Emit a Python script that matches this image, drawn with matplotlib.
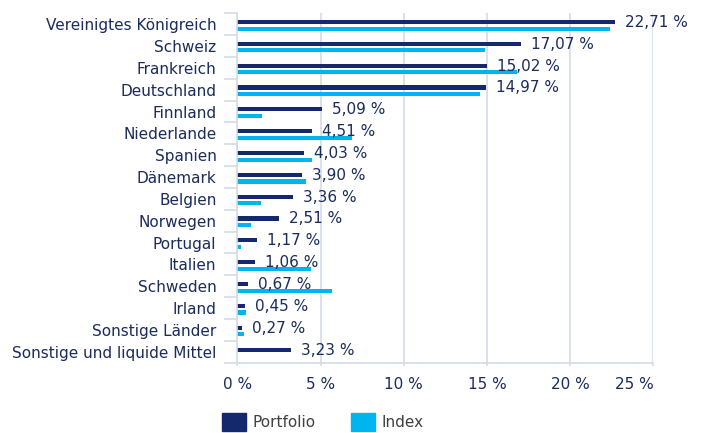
import numpy as np
import matplotlib
matplotlib.use("Agg")
import matplotlib.pyplot as plt
from matplotlib.patches import Patch

categories = ["Vereinigtes Königreich", "Schweiz", "Frankreich", "Deutschland",
              "Finnland", "Niederlande", "Spanien", "Dänemark", "Belgien",
              "Norwegen", "Portugal", "Italien", "Schweden", "Irland",
              "Sonstige Länder", "Sonstige und liquide Mittel"]
portfolio = [22.71, 17.07, 15.02, 14.97, 5.09, 4.51, 4.03, 3.90, 3.36,
             2.51, 1.17, 1.06, 0.67, 0.45, 0.27, 3.23]
index = [22.4, 14.9, 16.8, 14.6, 1.5, 6.9, 4.5, 4.15, 1.45,
         0.8, 0.2, 4.4, 5.7, 0.5, 0.4, 0.0]
xticks = [0, 5, 10, 15, 20, 25]

navy = "#13296b"
cyan = "#00b5ef"
text_col = "#1a2b5c"
grid_col = "#d3dce8"

plt.rcParams["font.family"] = "DejaVu Sans"

fig = plt.figure(figsize=(7.03, 4.33), dpi=100)
ax = fig.add_axes([0.3376, 0.1624, 0.9293 - 0.3376, 0.9693 - 0.1624])

y = np.arange(len(categories))
h = 0.19
ax.barh(y - 0.1, portfolio, height=h, color=navy, zorder=2)
ax.barh(y + 0.2, index, height=h, color=cyan, zorder=2)

for yi, v in zip(y, portfolio):
    ax.annotate(f"{v:.2f}".replace(".", ",") + " %", (v, yi - 0.08),
                xytext=(7, 0), textcoords="offset points",
                ha="left", va="center", fontsize=11, color=text_col, zorder=3)

ax.set_xlim(0, 25)
ax.set_ylim(len(categories) - 0.5, -0.5)
ax.set_xticks(xticks)
ax.set_xticklabels([f"{t} %" for t in xticks])
ax.get_xticklabels()[-1].set_ha("right")
ax.set_yticks(y)
ax.set_yticklabels(categories)
ax.set_yticks(np.arange(len(categories) + 1) - 0.5, minor=True)

ax.grid(axis="x", color=grid_col, linewidth=1.2, zorder=0)
ax.tick_params(axis="x", length=2.5, color=grid_col, width=1.2, pad=8,
               labelsize=11, labelcolor=text_col)
ax.tick_params(axis="y", which="major", length=0, pad=15,
               labelsize=11, labelcolor=text_col)
ax.tick_params(axis="y", which="minor", length=9.5, color=grid_col, width=1.2)

for side in ["top", "right"]:
    ax.spines[side].set_visible(False)
for side in ["left", "bottom"]:
    ax.spines[side].set_color(grid_col)
    ax.spines[side].set_linewidth(1.2)

handles = [Patch(color=navy, label="Portfolio"), Patch(color=cyan, label="Index")]
fig.legend(handles=handles, loc="center left", bbox_to_anchor=(0.3158, 0.0254),
           ncol=2, frameon=False, fontsize=11, labelcolor="#404040",
           handlelength=1.57, handleheight=1.45, handletextpad=0.45,
           columnspacing=2.3, borderpad=0, borderaxespad=0)

fig.savefig("out.png", dpi=100)
